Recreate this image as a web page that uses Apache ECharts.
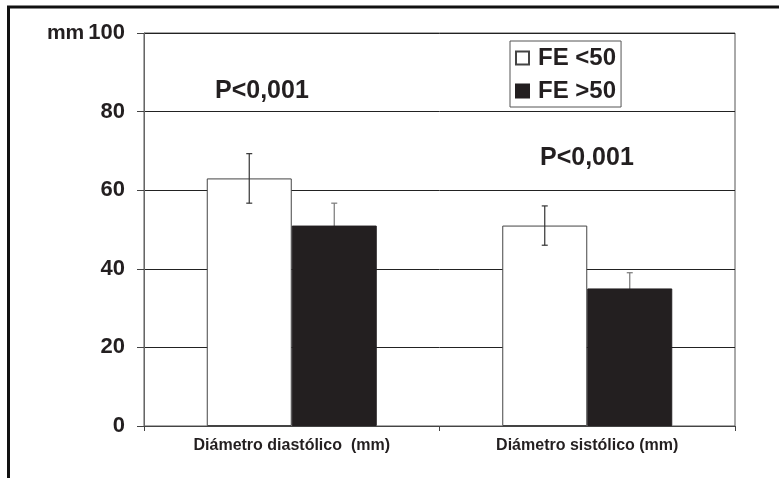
<!DOCTYPE html>
<html>
<head>
<meta charset="utf-8">
<script src="https://cdn.jsdelivr.net/npm/echarts@6/dist/echarts.min.js"></script>
<style>
  html, body { margin: 0; padding: 0; background: #fff; }
  #chart { width: 779px; height: 478px; }
</style>
</head>
<body>
<div id="chart"></div>
<script>
// categorias y valores (mm)
let categories = ['Diámetro diastólico  (mm)', 'Diámetro sistólico (mm)'];
let feLow = [63, 51];        // FE <50
let feHigh = [51, 35];       // FE >50
let feLowErr = [6.3, 5];
let feHighErr = [5.7, 4];
let yTicks = [0, 20, 40, 60, 80, 100];

let myChart = echarts.init(document.getElementById('chart'));

function errorBars(values, errs, offset, color, z) {
    return {
        type: 'custom',
        z: z,
        data: values.map((v, i) => [i, v, errs[i]]),
        renderItem: function (params, api) {
            let i = api.value(0);
            let hi = api.coord([i, api.value(1) + api.value(2)]);
            let lo = api.coord([i, api.value(1) - api.value(2)]);
            let x = hi[0] + offset;
            let cap = 3;
            let st = { stroke: color, lineWidth: 1.2 };
            return {
                type: 'group',
                children: [
                    { type: 'line', shape: { x1: x, y1: hi[1], x2: x, y2: lo[1] }, style: st },
                    { type: 'line', shape: { x1: x - cap, y1: hi[1], x2: x + cap, y2: hi[1] }, style: st },
                    { type: 'line', shape: { x1: x - cap, y1: lo[1], x2: x + cap, y2: lo[1] }, style: st }
                ]
            };
        }
    };
}

myChart.setOption({
    animation: false,
    backgroundColor: '#fff',
    textStyle: { fontFamily: 'Liberation Sans, Arial, sans-serif' },
    grid: {
        left: 144, right: 44, top: 33, bottom: 52,
        show: true, borderColor: '#555', borderWidth: 1
    },
    legend: {
        orient: 'vertical',
        left: 510, top: 41,
        padding: [5, 5, 4, 5],
        itemGap: 9,
        itemWidth: 13, itemHeight: 13,
        borderColor: '#555', borderWidth: 1,
        icon: 'rect',
        textStyle: { fontSize: 24, fontWeight: 'bold', color: '#231f20', padding: [0, 0, 0, 4] },
        data: ['FE <50', 'FE >50']
    },
    xAxis: {
        type: 'category',
        data: categories,
        axisLine: { lineStyle: { color: '#444', width: 1 } },
        axisTick: { show: true, length: 5, lineStyle: { color: '#444' } },
        axisLabel: { fontSize: 16, fontWeight: 'bold', color: '#231f20', margin: 12 }
    },
    yAxis: {
        type: 'value',
        min: 0, max: 100, interval: 20,
        axisLine: { show: true, lineStyle: { color: '#666' } },
        axisTick: { show: true, length: 7, lineStyle: { color: '#444' } },
        splitLine: { lineStyle: { color: '#222', width: 1 } },
        axisLabel: {
            margin: 19,
            fontSize: 22, fontWeight: 'bold', color: '#231f20',
            formatter: function (v) {
                return v === yTicks[yTicks.length - 1] ? '{u|mm}' + v : '' + v;
            },
            rich: { u: { fontSize: 21, fontWeight: 'bold', color: '#231f20', padding: [0, 4, 0, 0] } }
        }
    },
    series: [
        {
            name: 'FE <50',
            type: 'bar',
            data: feLow,
            barWidth: 85,
            barGap: '0%',
            itemStyle: { color: '#fff', borderColor: '#444', borderWidth: 1 }
        },
        {
            name: 'FE >50',
            type: 'bar',
            data: feHigh,
            barWidth: 85,
            itemStyle: { color: '#231f20', borderColor: '#231f20', borderWidth: 1 }
        },
        errorBars(feLow, feLowErr, -42.5, '#333', 10),
        errorBars(feHigh, feHighErr, 42.5, '#777', 1)
    ],
    graphic: [
        {
            type: 'rect', silent: true,
            shape: { x: 8.5, y: 7, width: 820, height: 520 },
            style: { fill: null, stroke: '#111', lineWidth: 3 }
        },
        {
            type: 'text', left: 215, top: 79,
            style: { text: 'P<0,001', fontSize: 25, fontWeight: 'bold', fill: '#231f20', fontFamily: 'Liberation Sans, Arial' }
        },
        {
            type: 'text', left: 540, top: 146,
            style: { text: 'P<0,001', fontSize: 25, fontWeight: 'bold', fill: '#231f20', fontFamily: 'Liberation Sans, Arial' }
        }
    ]
});
</script>
</body>
</html>
